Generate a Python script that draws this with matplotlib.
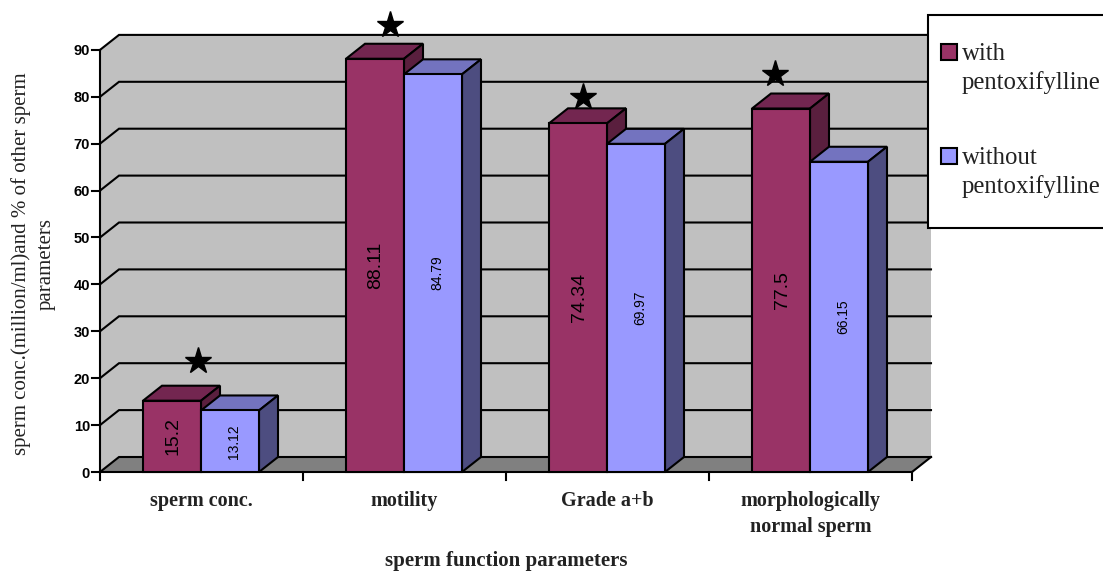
#!/usr/bin/env python3
import matplotlib
matplotlib.use("Agg")
import matplotlib.pyplot as plt
from matplotlib.patches import Polygon, Rectangle
from matplotlib.transforms import Affine2D

CATEGORIES = ["sperm conc.", "motility", "Grade a+b", "morphologically\nnormal sperm"]
WITH_PENTOX = [15.2, 88.11, 74.34, 77.5]
WITHOUT_PENTOX = [13.12, 84.79, 69.97, 66.15]
STAR_X = [0.483, 1.429, 2.379, 3.325]
STAR_Y = [23.6, 95.3, 80.0, 84.9]
Y_TICKS = [0, 10, 20, 30, 40, 50, 60, 70, 80, 90]

W, H = 1103, 572
X0, Y0 = 100, 472
PX_CAT, PX_UNIT = 203, 4.69
DX, DY = 19 / PX_CAT, 15 / PX_UNIT
BAR_W = 58 / PX_CAT
BAR_START = 43 / PX_CAT
LW = 1.5
SERIF = "Liberation Serif"
SANS = "Liberation Sans"

RED = ("#993366", "#732650", "#5A1F3E")
BLUE = ("#9999FF", "#7373BF", "#4D4D80")

fig = plt.figure(figsize=(W / 100, H / 100), dpi=100)
ax = fig.add_axes([0, 0, 1, 1])
ax.set_xlim(-X0 / PX_CAT, (W - X0) / PX_CAT)
ax.set_ylim(-(H - Y0) / PX_UNIT, Y0 / PX_UNIT)
ax.axis("off")

# pixel coordinates, y from the top, for the chrome
px = Affine2D().scale(1, -1).translate(0, H)
n = len(CATEGORIES)
top = Y_TICKS[-1]

# walls and floor
ax.add_patch(Polygon([(0, 0), (DX, DY), (DX, top + DY), (0, top)], fc="#C0C0C0", ec="none", zorder=1))
ax.add_patch(Rectangle((DX, DY), n, top, fc="#C0C0C0", ec="none", zorder=1))
ax.add_patch(Polygon([(0, 0), (DX, DY), (n + DX, DY), (n, 0)], fc="#808080", ec="none", zorder=1))

for t in Y_TICKS:
    ax.plot([0, DX, n + DX], [t, t + DY, t + DY], color="black", lw=LW, zorder=2, solid_joinstyle="miter")
    ax.plot([-8 / PX_CAT, 0], [t, t], color="black", lw=LW, zorder=2)
    ax.text(-10 / PX_CAT, t, str(t), ha="right", va="center_baseline", fontsize=10.5,
            fontweight="bold", family=SANS, zorder=5)
ax.plot([n + DX, n], [DY, 0], color="black", lw=LW, zorder=2)
ax.plot([0, 0], [0, top], color="black", lw=LW, zorder=2)
ax.plot([0, n], [0, 0], color="black", lw=LW, zorder=2)
for i in range(n + 1):
    ax.plot([i, i], [0, -8 / PX_UNIT], color="black", lw=LW, zorder=2)


def draw_bar(x, value, colors, zorder):
    front, top_c, side = colors
    w = BAR_W
    ax.add_patch(Polygon([(x, value), (x + DX, value + DY), (x + w + DX, value + DY), (x + w, value)],
                         fc=top_c, ec="black", lw=LW, zorder=zorder, joinstyle="miter"))
    ax.add_patch(Polygon([(x + w, 0), (x + w + DX, DY), (x + w + DX, value + DY), (x + w, value)],
                         fc=side, ec="black", lw=LW, zorder=zorder, joinstyle="miter"))
    ax.add_patch(Rectangle((x, 0), w, value, fc=front, ec="black", lw=LW, zorder=zorder, joinstyle="miter"))


for i in range(n):
    x1 = i + BAR_START
    x2 = x1 + BAR_W
    draw_bar(x1, WITH_PENTOX[i], RED, 3)
    draw_bar(x2, WITHOUT_PENTOX[i], BLUE, 3.1)
    ax.text(x1 + BAR_W / 2 + 1 / PX_CAT, WITH_PENTOX[i] / 2, str(WITH_PENTOX[i]), rotation=90, ha="center",
            va="center", fontsize=14, family=SANS, zorder=4)
    ax.text(x2 + BAR_W / 2 + 4 / PX_CAT, WITHOUT_PENTOX[i] / 2, str(WITHOUT_PENTOX[i]), rotation=90,
            ha="center", va="center", fontsize=10, family=SANS, zorder=4)
    ax.text(i + 0.5, -19 / PX_UNIT, CATEGORIES[i], ha="center", va="top", fontsize=14.5, fontweight="bold",
            family=SERIF, linespacing=1.4, color="#222222", zorder=5)

ax.plot(STAR_X, STAR_Y, linestyle="none", marker="*", ms=20, mfc="black", mec="black", zorder=6)

# axis titles
ax.text(33, 264, "sperm conc.(million/ml)and % of other sperm\nparameters", transform=px, rotation=90,
        ha="center", va="center", multialignment="center", fontsize=15, family=SERIF, linespacing=1.4,
        color="#222222")
ax.text(506, 561, "sperm function parameters", transform=px, ha="center", va="center", fontsize=15,
        fontweight="bold", family=SERIF, color="#222222")

# legend box runs past the right edge of the picture
ax.add_patch(Rectangle((928, 15), 200, 213, transform=px, fc="white", ec="black", lw=LW, zorder=7,
                       clip_on=True))
for y, color, label in [(52, RED[0], "with\npentoxifylline"), (156, BLUE[0], "without\npentoxifylline")]:
    ax.add_patch(Rectangle((941, y - 8), 15.5, 15.5, transform=px, fc=color, ec="black", lw=LW, zorder=8))
    ax.text(962, y - 9, label, transform=px, ha="left", va="top", fontsize=17.8, family=SERIF,
            linespacing=1.33, color="#222222", zorder=8)

plt.savefig("out.png", dpi=100)
plt.close()
